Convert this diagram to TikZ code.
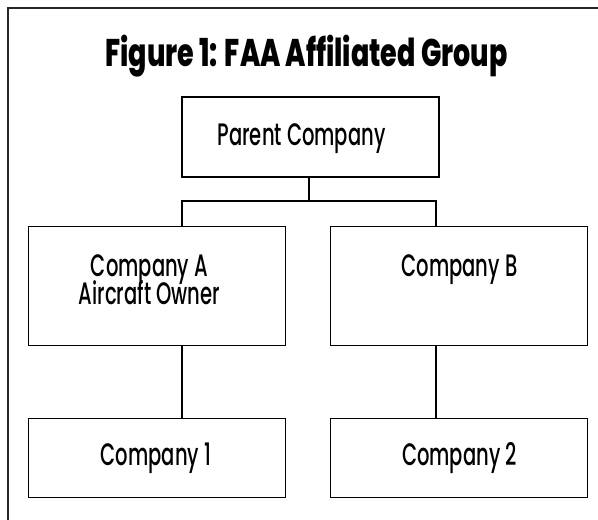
\documentclass[tikz,border=0pt]{standalone}
\usepackage{fontspec}
\setmainfont{Poppins}[UprightFont=* Medium, FakeStretch=0.63]
\newfontfamily\titlefont{Poppins}[UprightFont=* ExtraBold, FakeStretch=0.7]
\begin{document}
\begin{tikzpicture}[x=1pt,y=-1pt,
  box/.style={draw=black,line width=1.3pt,rectangle,inner sep=0pt,minimum width=#1},
  boxtext/.style={font=\fontsize{31}{28}\selectfont,anchor=base,inner sep=0pt},
  conn/.style={line width=2pt}]
\useasboundingbox[fill=white] (0,0) rectangle (598,520);
\begin{scope}
\clip (0,0) rectangle (598,520);
\draw[line width=1.6pt,draw=black!85] (8,8) rectangle (610,530);
\end{scope}
\node[anchor=base,inner sep=0pt,font=\titlefont\fontsize{38.5}{40}\selectfont] (title) at (306.5,66) {Figure 1: FAA Affiliated Group};
% boxes
\node[box=257pt,minimum height=80pt] (parent) at (310.5,137) {};
\node[box=257pt,minimum height=119pt] (ca) at (157.3,286.2) {};
\node[box=257pt,minimum height=119pt] (cb) at (459.2,286.2) {};
\node[box=257pt,minimum height=79pt] (c1) at (157.3,458) {};
\node[box=257pt,minimum height=79pt] (c2) at (459.2,458) {};
% texts
\node[boxtext] (tparent) at (301.5,145) {Parent Company};
\node[boxtext] (tca1) at (149.5,276.7) {Company A};
\node[boxtext] (tca2) at (149.5,304.7) {Aircraft Owner};
\node[boxtext] (tcb) at (459.5,276.7) {Company B};
\node[boxtext] (tc1) at (156,465) {Company 1};
\node[boxtext] (tc2) at (459.5,465) {Company 2};
% connectors
\coordinate (jm) at (309,201);
\coordinate (jl) at (182,201);
\coordinate (jr) at (436,201);
\draw[conn] (parent.south -| jm) -- (jm);
\draw[conn] (ca.north -| jl) -- (jl) -- (jr) -- (cb.north -| jr);
\draw[conn] (ca.south -| jl) -- (c1.north -| jl);
\draw[conn] (cb.south -| jr) -- (c2.north -| jr);
\end{tikzpicture}
\end{document}
